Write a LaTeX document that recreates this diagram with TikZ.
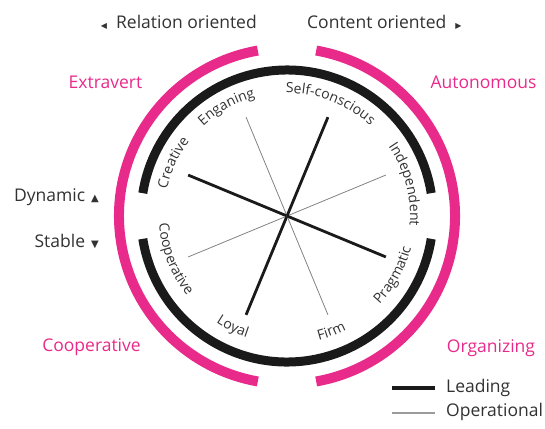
\documentclass[tikz,border=0pt]{standalone}
\usepackage{fontspec}
\setmainfont{Open Sans}
\newfontfamily\dvfont{DejaVu Sans}
\usetikzlibrary{decorations.text}
\definecolor{mag}{RGB}{232,42,138}
\definecolor{txt}{RGB}{50,50,50}
\definecolor{ring}{RGB}{26,26,26}
\definecolor{thin}{RGB}{130,130,130}
\newcommand\curvefont{\fontsize{14}{16}\selectfont}
\newcommand\tri[2]{{\dvfont\fontsize{#1}{#1}\selectfont #2}}
\begin{document}
\begin{tikzpicture}[x=1pt,y=1pt,
  lbl/.style={font=\fontsize{17.5}{20}\selectfont, text=txt, inner sep=0pt},
  maglbl/.style={font=\fontsize{17.5}{20}\selectfont, text=mag, inner sep=0pt},
  magarc/.style={draw=mag, line width=10pt},
  blkarc/.style={draw=ring, line width=9pt},
  lead/.style={draw=ring, line width=2.8pt},
  oper/.style={draw=thin, line width=0.8pt},
  leglead/.style={draw=ring, line width=3.5pt},
  legoper/.style={draw=thin!80, line width=1.2pt},
]
\useasboundingbox (0,0) rectangle (545,-428);
\coordinate (C) at (287,-216);

% rings
\draw[magarc] ([shift={(80:168)}]C) arc[start angle=80, end angle=-80, radius=168];
\draw[magarc] ([shift={(100:168)}]C) arc[start angle=100, end angle=260, radius=168];
\draw[blkarc] ([shift={(9:146)}]C) arc[start angle=9, end angle=171, radius=146];
\draw[blkarc] ([shift={(189:146)}]C) arc[start angle=189, end angle=351, radius=146];

% spokes
\foreach \i/\a/\st in {1/22.5/oper,2/67.5/lead,3/112.5/oper,4/157.5/lead,5/202.5/oper,6/247.5/lead,7/292.5/oper,8/337.5/lead}{
  \coordinate (s\i) at ([shift={(\a:107)}]C);
  \draw[\st] (C) -- (s\i);
}

% curved labels
\foreach \a/\t in {155/Creative,119/Enganing,69/Self-conscious,15/Independent}{
  \pgfmathsetmacro\sa{\a+45}\pgfmathsetmacro\ea{\a-45}
  \path[decorate,decoration={text along path,text align=center,text color=txt,text={|\curvefont|\t}}]
    ([shift={(\sa:123)}]C) arc[start angle=\sa, end angle=\ea, radius=123];
}
\foreach \a/\t in {201/Cooperative,244/Loyal,291/Firm,331/Pragmatic}{
  \pgfmathsetmacro\sa{\a-45}\pgfmathsetmacro\ea{\a+45}
  \path[decorate,decoration={text along path,text align=center,text color=txt,text={|\curvefont|\t}}]
    ([shift={(\sa:128)}]C) arc[start angle=\sa, end angle=\ea, radius=128];
}

% outer labels
\node[lbl,anchor=east] (rel) at (257,-22) {\tri{8}{◀}\hspace{9pt}Relation oriented};
\node[lbl,anchor=west] (con) at (307,-22) {Content oriented\hspace{9pt}\tri{8}{▶}};
\node[maglbl] (ext) at (105.5,-82) {Extravert};
\node[maglbl] (aut) at (483.5,-82) {Autonomous};
\node[lbl,anchor=east] (dyn) at (99,-197) {Dynamic\hspace{6pt}\tri{10}{▲}};
\node[lbl,anchor=east] (sta) at (99,-241) {Stable\hspace{6pt}\tri{10}{▼}};
\node[maglbl] (coo) at (91.5,-347) {Cooperative};
\node[maglbl] (org) at (491,-348) {Organizing};

% legend
\coordinate (l1a) at (392,-388); \coordinate (l1b) at (435,-388);
\coordinate (l2a) at (392,-413); \coordinate (l2b) at (435,-413);
\draw[leglead] (l1a) -- (l1b);
\draw[legoper] (l2a) -- (l2b);
\node[lbl,anchor=west] (lg1) at (446,-388) {Leading};
\node[lbl,anchor=west] (lg2) at (446,-412) {Operational};
\end{tikzpicture}
\end{document}
